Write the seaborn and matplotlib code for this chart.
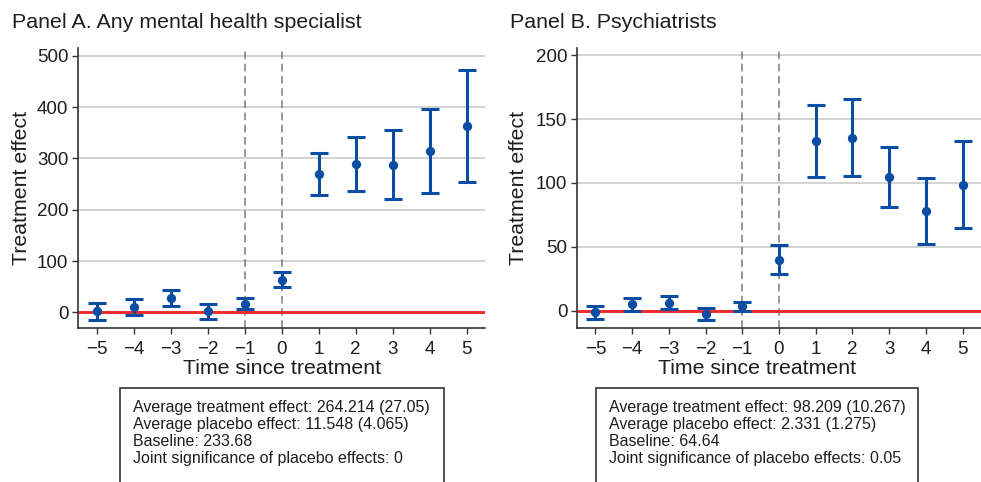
import numpy as np
import pandas as pd
import matplotlib
matplotlib.use("Agg")
import matplotlib.pyplot as plt
import seaborn as sns
from matplotlib.patches import Rectangle

# ---- data ----
periods = [-5, -4, -3, -2, -1, 0, 1, 2, 3, 4, 5]

a_est = [2, 10, 28, 2, 17, 63, 269, 289, 288, 314, 364]
a_low = [-15, -5, 12, -13, 6.5, 49, 228, 236, 220, 232, 254]
a_high = [18, 27, 44, 17, 28.5, 78, 310, 341, 355, 396, 473]

b_est = [-1.3, 5, 6.3, -2.3, 3.4, 40, 132.9, 135.2, 104.7, 78, 98.7]
b_low = [-6.5, -0.3, 1.3, -7.3, -0.3, 28.7, 105, 105.5, 81.2, 52.5, 64.8]
b_high = [3.9, 10.2, 11.7, 2.3, 7, 51.7, 161, 165.8, 128.2, 104.2, 133.2]

titles = ["Panel A. Any mental health specialist", "Panel B. Psychiatrists"]
a_yticks = [0, 100, 200, 300, 400, 500]
b_yticks = [0, 50, 100, 150, 200]

a_box = ["Average treatment effect: 264.214 (27.05)",
         "Average placebo effect: 11.548 (4.065)",
         "Baseline: 233.68",
         "Joint significance of placebo effects: 0"]
b_box = ["Average treatment effect: 98.209 (10.267)",
         "Average placebo effect: 2.331 (1.275)",
         "Baseline: 64.64",
         "Joint significance of placebo effects: 0.05"]

# ---- style ----
sns.set_theme(style="white")
plt.rcParams['font.family'] = ['Liberation Sans', 'DejaVu Sans']
plt.rcParams['axes.unicode_minus'] = True

W, H = 981, 482
fig = plt.figure(figsize=(W / 100, H / 100), dpi=100)

BLUE = "#0B4DA2"
RED = "#EE2A2A"
TXT = "#1e1e1e"


def px_axes(l, t, r, b):
    return fig.add_axes([l / W, 1 - b / H, (r - l) / W, (b - t) / H])


def panel(ax, est, low, high, ylim, yticks, title, title_x, ylab_x, xlab_x, box, box_l, box_r, txt_x):
    df = pd.DataFrame({"t": periods, "est": est, "low": low, "high": high})
    ax.set_xlim(-5.5, 5.5)
    ax.set_ylim(*ylim)
    ax.set_yticks(yticks)
    ax.set_xticks(periods)
    ax.yaxis.grid(True, color="#cfcfcf", lw=1.3, zorder=0)
    ax.set_axisbelow(True)
    for xv in (-1, 0):
        ax.axvline(xv, color="#7a7a7a", lw=1.1, ls=(0, (5, 3)), zorder=1)
    ax.axhline(0, color=RED, lw=2.1, zorder=2)
    ax.errorbar(df["t"], df["est"],
                yerr=[df["est"] - df["low"], df["high"] - df["est"]],
                fmt="none", ecolor=BLUE, elinewidth=2.2, capsize=6.2, capthick=2.2, zorder=3)
    sns.scatterplot(data=df, x="t", y="est", ax=ax, color=BLUE, s=45,
                    edgecolor=BLUE, linewidth=0, zorder=4, legend=False)
    sns.despine(ax=ax)
    for s in ("left", "bottom"):
        ax.spines[s].set_color("#333333")
        ax.spines[s].set_linewidth(1.2)
    ax.tick_params(axis="both", which="major", direction="out", length=4, width=1,
                   color="#333333", labelsize=13.5, labelcolor=TXT, pad=3, left=True, bottom=True)
    ax.tick_params(axis="x", length=4.5, pad=4.5)
    ax.set_xlabel("Time since treatment", fontsize=15.3, color=TXT)
    ax.set_ylabel("Treatment effect", fontsize=15.3, color=TXT)
    bb = ax.get_position()
    axl, axw = bb.x0 * W, bb.width * W
    axb, axh = (1 - bb.y0) * H, bb.height * H
    ax.xaxis.set_label_coords((xlab_x - axl) / axw, -(368 - axb) / axh)
    ax.xaxis.label.set_va("center")
    ax.yaxis.set_label_coords((ylab_x - axl) / axw, 0.5)
    ax.yaxis.label.set_va("center")
    fig.text(title_x / W, 1 - 28 / H, title, fontsize=15.4, color=TXT, ha="left", va="baseline")
    fig.patches.append(Rectangle((box_l / W, -0.05), (box_r - box_l) / W, (H - 388) / H + 0.05,
                                 transform=fig.transFigure, fill=False,
                                 edgecolor="#333333", lw=1.2))
    for i, line in enumerate(box):
        fig.text(txt_x / W, 1 - (411.7 + 17.2 * i) / H, line, fontsize=11.5,
                 color=TXT, ha="left", va="baseline")


axA = px_axes(78, 48, 485, 328)
panel(axA, a_est, a_low, a_high, (-30.4, 515), a_yticks, titles[0], 12, 21.5, 282,
      a_box, 120, 444, 133)

axB = px_axes(577, 48, 981, 328)
panel(axB, b_est, b_low, b_high, (-13.6, 205.7), b_yticks, titles[1], 510, 519, 757,
      b_box, 596, 918, 609)

fig.savefig("out.png", dpi=100)
